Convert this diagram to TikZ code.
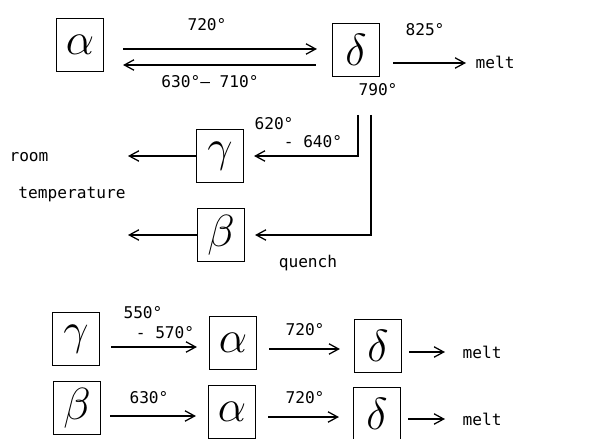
\documentclass[tikz,border=0pt]{standalone}
\usepackage{fix-cm}
\usepackage{fontspec}
\setmonofont{DejaVu Sans Mono}
\usetikzlibrary{arrows.meta, positioning}

\begin{document}
\begin{tikzpicture}[
        x=0.025cm, y=-0.025cm,
        phase/.style={draw, line width=0.9pt, minimum width=1.17cm, minimum height=1.34cm, inner sep=0pt, font=\fontsize{32}{32}\selectfont},
        arrow/.style={-{Straight Barb[length=2.4mm, width=2.6mm]}, line width=0.9pt},
        lbl/.style={font=\ttfamily\fontsize{11.5}{13}\selectfont, inner sep=1pt}
    ]
        \useasboundingbox (0,0) rectangle (606,439);

        % Heating and cooling of alpha
        \node[phase] (alpha) at (80,45) {$\alpha$};
        \node[phase] (delta) at (356,50) {$\delta$};
        \node[lbl, anchor=west] (melt) at (474,62) {melt};

        \draw[arrow, shorten <=0.475cm, shorten >=0.375cm] (alpha.east |- 0,49) -- (delta.west |- 0,49);
        \draw[arrow, shorten <=0.4cm, shorten >=0.475cm] (delta.west |- 0,65) -- (alpha.east |- 0,65);
        \draw[arrow, shorten <=0.33cm, shorten >=0.2cm] (delta.east |- 0,63) -- (melt.west |- 0,63);

        \node[lbl] (t720) at (207,25) {720°};
        \node[lbl] (t630) at (210,82) {630°– 710°};
        \node[lbl] (t825) at (425,30) {825°};
        \node[lbl] (t790) at (378,90) {790°};

        % Cooling from delta
        \coordinate (slowA) at (358,115);
        \coordinate (fastB) at (371,115);
        \node[phase] (gammaU) at (220,156) {$\gamma$};
        \node[phase] (betaU) at (221,235) {$\beta$};
        \coordinate (roomA) at (128,156);
        \coordinate (roomB) at (128,235);

        \draw[arrow, shorten >=0.25cm] (slowA) |- (gammaU.east);
        \draw[arrow, shorten >=0.25cm] (fastB) |- (betaU.east);
        \draw[arrow] (gammaU.west) -- (roomA);
        \draw[arrow] (betaU.west) -- (roomB);

        \node[lbl] (t620) at (274,124) {620°};
        \node[lbl] (t640) at (313,142) {- 640°};
        \node[lbl] (quench) at (308,263) {quench};
        \node[lbl] (room) at (29,157) {room};
        \node[lbl] (temp) at (72,195) {temperature};

        % Reheating of gamma
        \node[phase] (gammaL) at (76,339) {$\gamma$};
        \node[phase] (alphaG) at (233,343) {$\alpha$};
        \node[phase] (deltaG) at (378,346) {$\delta$};
        \node[lbl, anchor=west] (meltG) at (461,352) {melt};

        \draw[arrow, shorten <=0.275cm, shorten >=0.3cm] (gammaL.east |- 0,347) -- (alphaG.west |- 0,347);
        \draw[arrow, shorten <=0.3cm, shorten >=0.35cm] (alphaG.east |- 0,349) -- (deltaG.west |- 0,349);
        \draw[arrow, shorten <=0.18cm, shorten >=0.4cm] (deltaG.east |- 0,352) -- (meltG.west |- 0,352);

        \node[lbl] (t550) at (143,313) {550°};
        \node[lbl] (t570) at (165,333) {- 570°};
        \node[lbl] (t720g) at (305,330) {720°};

        % Reheating of beta
        \node[phase] (betaL) at (77,408) {$\beta$};
        \node[phase] (alphaB) at (232,412) {$\alpha$};
        \node[phase] (deltaB) at (377,414) {$\delta$};
        \node[lbl, anchor=west] (meltB) at (461,419) {melt};

        \draw[arrow, shorten <=0.225cm, shorten >=0.3cm] (betaL.east |- 0,416) -- (alphaB.west |- 0,416);
        \draw[arrow, shorten <=0.3cm, shorten >=0.35cm] (alphaB.east |- 0,417) -- (deltaB.west |- 0,417);
        \draw[arrow, shorten <=0.18cm, shorten >=0.4cm] (deltaB.east |- 0,419) -- (meltB.west |- 0,419);

        \node[lbl] (t630b) at (149,398) {630°};
        \node[lbl] (t720b) at (305,398) {720°};
    \end{tikzpicture}
\end{document}
